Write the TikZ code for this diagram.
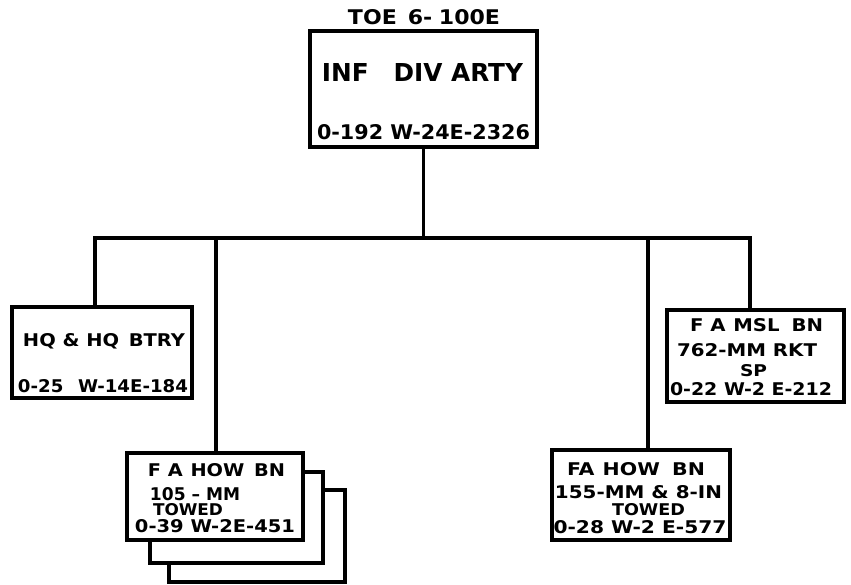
\documentclass[tikz,border=0pt]{standalone}
\usepackage{fontspec}
\usepackage{graphicx}
\setmainfont{DejaVu Sans}
\newcommand{\tx}[3]{\resizebox{#1pt}{#2pt}{\bfseries #3}}
\begin{document}
\begin{tikzpicture}[x=1pt,y=-1pt,
  box/.style={draw=black,line width=3.2pt,fill=white,inner sep=0pt},
  conn/.style={draw=black,line width=3.2pt},
  lbl/.style={inner sep=0pt,text=black,font=\fontsize{10}{10}\selectfont}]
\path[use as bounding box,fill=white] (0,0) rectangle (851,584);
% title
\node[lbl] (title) at (424,17) {\tx{152}{15}{TOE\hspace{0.5em}6-\hspace{0.3em}100E}};
% top box
\node[box,minimum width=227pt,minimum height=116pt] (top) at (423.5,89) {};
\node[lbl] (topA) at (422.5,72.5) {\tx{201}{18}{INF\hspace{1em}DIV ARTY}};
\node[lbl] (topB) at (423.5,132) {\tx{213}{15}{0-192 W-24E-2326}};
% HQ box
\node[box,minimum width=180pt,minimum height=91pt] (hq) at (102,352.5) {};
\node[lbl] (hqA) at (104,341.5) {\tx{162}{13}{HQ \& HQ\hspace{0.5em}BTRY}};
\node[lbl] (hqB) at (103,386.5) {\tx{170}{13}{0-25\hspace{0.8em}W-14E-184}};
% MSL box
\node[box,minimum width=177pt,minimum height=92pt] (msl) at (755.5,356) {};
\node[lbl] (mslA) at (756.5,325) {\tx{133}{13}{F A\hspace{0.4em}MSL\hspace{0.6em}BN}};
\node[lbl] (mslB) at (747,350) {\tx{140}{13}{762-MM RKT}};
\node[lbl] (mslC) at (753.5,371) {\tx{27}{12}{SP}};
\node[lbl] (mslD) at (751,389) {\tx{162}{13}{0-22 W-2 E-212}};
% 105 stacked boxes
\node[box,minimum width=176pt,minimum height=92pt] (howC) at (257,536) {};
\node[box,minimum width=173pt,minimum height=91pt] (howB) at (236.5,517.5) {};
\node[box,minimum width=176pt,minimum height=87pt] (how) at (215,496.5) {};
\node[lbl] (howA1) at (216.5,470) {\tx{137}{13}{F A\hspace{0.4em}HOW\hspace{0.5em}BN}};
\node[lbl] (howA2) at (195,494) {\tx{90}{13}{105 -- MM}};
\node[lbl] (howA3) at (188,510) {\tx{70}{12}{TOWED}};
\node[lbl] (howA4) at (215,526.5) {\tx{160}{13}{0-39 W-2E-451}};
% 155 box
\node[box,minimum width=178pt,minimum height=90pt] (hv) at (641,495) {};
\node[lbl] (hvA) at (636,469.5) {\tx{138}{13}{FA\hspace{0.4em}HOW\hspace{0.6em}BN}};
\node[lbl] (hvB) at (638.5,492.5) {\tx{167}{13}{155-MM \& 8-IN}};
\node[lbl] (hvC) at (648.5,510) {\tx{73}{12}{TOWED}};
\node[lbl] (hvD) at (640,527.5) {\tx{173}{13}{0-28 W-2 E-577}};
% connectors
\coordinate (busT) at (top.south |- 0,238);
\coordinate (busL) at (95,238);
\coordinate (busR) at (750,238);
\coordinate (bus105) at (216,238);
\coordinate (bus155) at (648,238);
\draw[conn] (top.south) -- (busT);
\draw[conn,line cap=rect] (busL) -- (busR);
\draw[conn] (busL) -- (busL |- hq.north);
\draw[conn] (bus105) -- (bus105 |- how.north);
\draw[conn] (bus155) -- (bus155 |- hv.north);
\draw[conn] (busR) -- (busR |- msl.north);
\end{tikzpicture}
\end{document}
